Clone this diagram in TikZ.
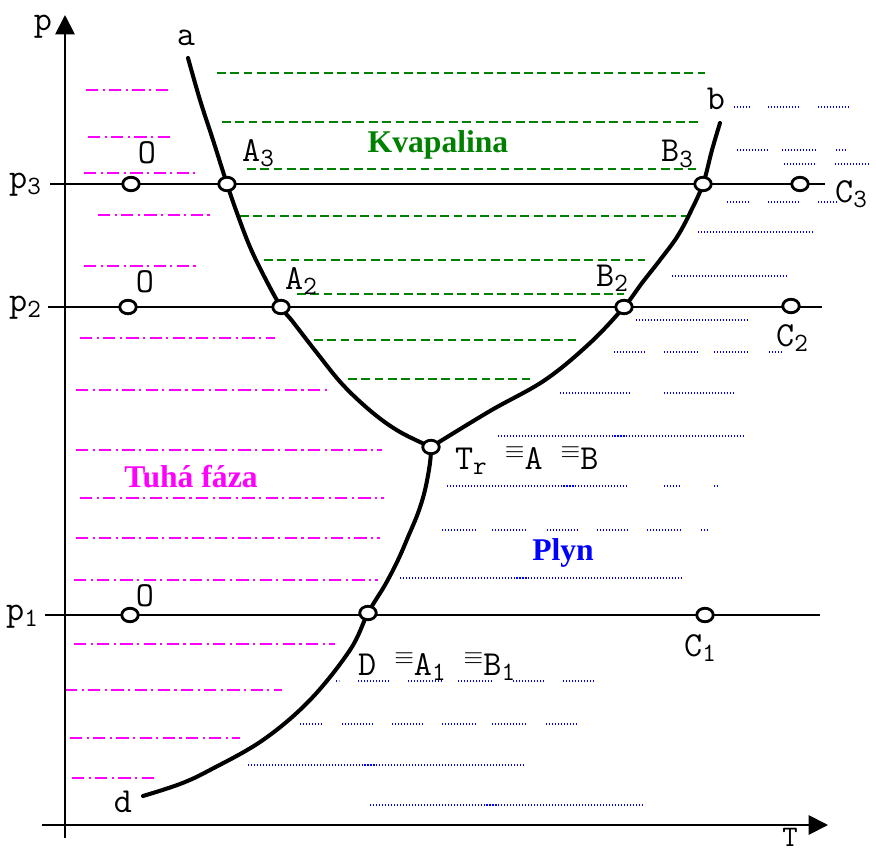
\documentclass[tikz,border=0pt]{standalone}
\usepackage{fontspec}
\setmainfont{Liberation Serif}
\usetikzlibrary{arrows.meta,shapes.geometric,backgrounds}
\definecolor{solidmag}{HTML}{FF00FF}
\definecolor{liquidgreen}{HTML}{008000}
\definecolor{gasblue}{HTML}{0000FF}
\newcommand\lo[1]{\raisebox{-0.35ex}{\fontsize{15}{15}\selectfont #1}}
\newcommand\eqv{\raisebox{6pt}{\fontsize{14}{14}\selectfont$\equiv$}}

\begin{document}
\begin{tikzpicture}[x=0.02cm, y=-0.02cm, >={Triangle[length=11pt,width=11pt]},
  lbl/.style={font=\ttfamily\fontsize{20}{22}\selectfont, inner sep=1pt},
  phase/.style={font=\bfseries\fontsize{18}{20}\selectfont, inner sep=1pt},
  pt/.style={draw, ellipse, fill=white, line width=1.6pt, minimum width=0.33cm, minimum height=0.27cm, inner sep=0pt},
  axisline/.style={line width=1.1pt},
  isobar/.style={line width=1.1pt},
  curve/.style={line width=2.3pt, line join=round, line cap=round},
  solidhatch/.style={solidmag, line width=1.1pt, dash pattern=on 7pt off 2.5pt on 1.2pt off 2.5pt},
  liquidhatch/.style={liquidgreen, line width=1.1pt, dash pattern=on 5pt off 2.6pt},
  gashatch/.style={gasblue, line width=0.9pt, dash pattern=on 0.6pt off 1.1pt}]
  \useasboundingbox (0,0) rectangle (876,852);

  % axes
  \draw[axisline,->] (65,838) -- (65,15);
  \draw[axisline,->] (42,825) -- (828,825);
  \node[lbl] (p) at (43,27) {p};
  \node[lbl, font=\ttfamily\fontsize{17}{18}\selectfont, anchor=base, inner sep=0pt] (T) at (790,846) {T};

  % points on the isobars
  \node[pt] (O3) at (131,184) {};
  \node[pt] (A3) at (227,184) {};
  \node[pt] (B3) at (703,184) {};
  \node[pt] (C3) at (800,184) {};
  \node[pt] (O2) at (128,307) {};
  \node[pt] (A2) at (281,307) {};
  \node[pt] (B2) at (624,307) {};
  \node[pt] (C2) at (791,306) {};
  \node[pt] (Tr) at (431,447) {};
  \node[pt] (O1) at (130,615) {};
  \node[pt] (D) at (368,613) {};
  \node[pt] (C1) at (705,615) {};

  \begin{scope}[on background layer]
    % solid phase
    \foreach \y/\xa/\xb in {90/86/168, 137/88/172, 173/84/195, 215/98/212, 266/84/197,
        338/80/275, 390/76/327, 450/76/382, 498/80/384, 538/76/380, 580/74/378,
        644/74/335, 690/65/282, 738/70/240, 778/72/155}
      \draw[solidhatch] (\xa,\y) -- (\xb,\y);
    % liquid
    \foreach \y/\xa/\xb in {73/217/705, 122/222/700, 169/247/700, 216/240/690,
        260/264/645, 294/297/624, 340/314/579, 379/348/533}
      \draw[liquidhatch] (\xa,\y) -- (\xb,\y);
    % gas
    \foreach \y/\xa/\xb in {107/734/750, 107/768/799, 107/818/849,
        150/737/767, 150/782/817, 150/836/847, 164/784/815, 164/835/869,
        202/727/749, 202/768/799, 202/818/837, 232/698/813, 276/672/787, 320/636/747,
        352/614/645, 352/664/699, 352/714/749, 352/769/783,
        393/560/629, 393/664/733, 436/498/745, 486/447/629, 486/664/679, 486/714/718,
        530/442/477, 530/492/527, 530/547/577, 530/597/627, 530/647/681, 530/701/707,
        578/400/681, 681/336/339, 681/358/388, 681/408/443, 681/458/493, 681/513/543,
        681/563/593, 724/300/323, 724/342/373, 724/392/423, 724/442/477, 724/492/527,
        724/546/577, 765/248/525, 805/370/643}
      \draw[gashatch] (\xa,\y) -- (\xb,\y);

    % isobars
    \draw[isobar] (50,184) -- (825,184);
    \draw[isobar] (48,307) -- (822,307);
    \draw[isobar] (45,615) -- (820,615);

    % phase boundaries
    \draw[curve] plot[smooth, tension=0.6] coordinates {(188,58) (200,100) (213,140) (A3)
      (237,213) (250,247) (265,278) (A2) (293,322) (317,353) (343,385) (373,413) (400,432) (Tr)};
    \draw[curve] plot[smooth, tension=0.6] coordinates {(720,123) (712,150) (B3) (690,213)
      (677,237) (660,260) (642,283) (B2) (590,343) (545,380) (490,411) (Tr)};
    \draw[curve] plot[smooth, tension=0.6] coordinates {(Tr) (430,463) (425,490) (418,513)
      (408,537) (398,560) (385,585) (D) (350,650) (310,700) (263,740) (210,770)
      (180,784) (143,796)};
  \end{scope}

  % labels
  \node[lbl] (p3) at (25,185) {p\lo{3}};
  \node[lbl] (p2) at (25,308) {p\lo{2}};
  \node[lbl] (p1) at (22,617) {p\lo{1}};
  \node[lbl] (a) at (186,38) {a};
  \node[lbl] (b) at (716,99) {b};
  \node[lbl] (d) at (123,802) {d};
  \node[lbl] (lO3) at (147,153) {O};
  \node[lbl] (lO2) at (145,282) {O};
  \node[lbl] (lO1) at (145,596) {O};
  \node[lbl] (lA3) at (258,153) {A\lo{3}};
  \node[lbl] (lB3) at (677,154) {B\lo{3}};
  \node[lbl] (lC3) at (851,194) {C\lo{3}};
  \node[lbl] (lA2) at (301,281) {A\lo{2}};
  \node[lbl] (lB2) at (612,278) {B\lo{2}};
  \node[lbl] (lC2) at (792,338) {C\lo{2}};
  \node[lbl] (lC1) at (700,648) {C\lo{1}};
  \node[lbl, anchor=base west] (lTr) at (453,469) {T\lo{r} \eqv A \eqv B};
  \node[lbl, anchor=base west] (lD) at (356,675) {D \eqv A\lo{1} \eqv B\lo{1}};

  \node[phase, liquidgreen] (liquid) at (438,145) {Kvapalina};
  \node[phase, solidmag] (solid) at (191,477) {Tuhá fáza};
  \node[phase, gasblue] (gas) at (563,553) {Plyn};
\end{tikzpicture}
\end{document}
